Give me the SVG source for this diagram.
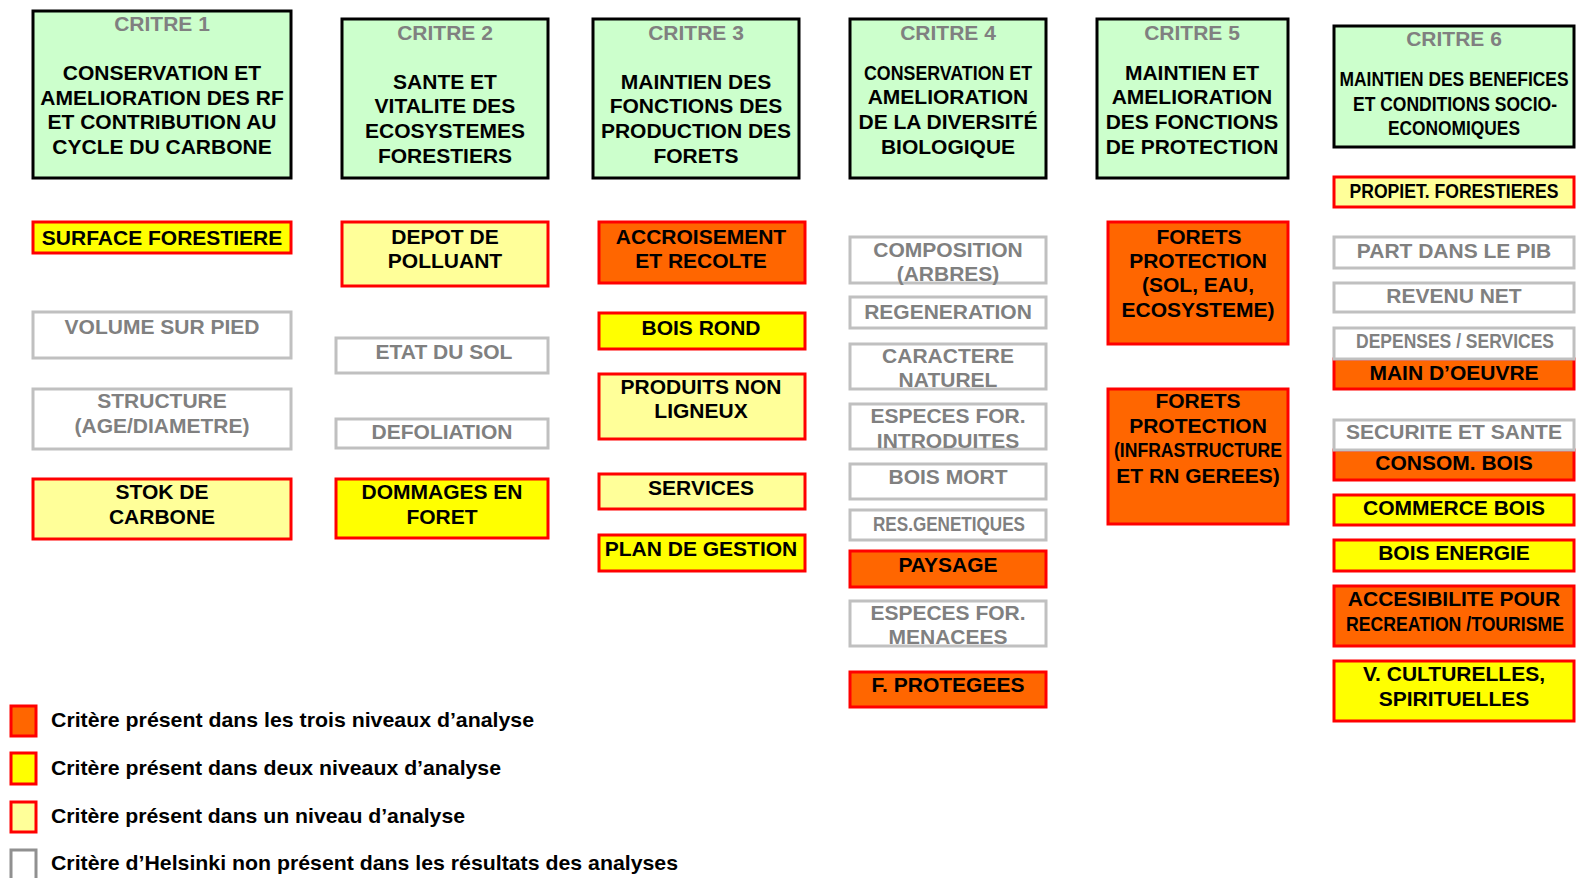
<svg xmlns="http://www.w3.org/2000/svg" width="1576" height="878" viewBox="0 0 1576 878">
<style>
.hdr{fill:#CCFFCC;stroke:#000;stroke-width:3}
.o{fill:#FF6600;stroke:#FF0000;stroke-width:3}
.y{fill:#FFFF00;stroke:#FF0000;stroke-width:3}
.ly{fill:#FFFF99;stroke:#FF0000;stroke-width:3}
.g{fill:#FFFFFF;stroke:#C0C0C0;stroke-width:3}
.lg{fill:#FFFFFF;stroke:#909090;stroke-width:3}
text{font-family:"Liberation Sans",Arial,sans-serif;font-weight:bold;font-size:21px;text-anchor:middle;fill:#000}
text.gt{fill:#808080}
text.leg{text-anchor:start}
</style>
<rect width="1576" height="878" fill="#FFFFFF"/>

<!-- Headers -->
<g id="critre1">
<rect class="hdr" x="33" y="11" width="258" height="167"/>
<text class="gt" x="162" y="31">CRITRE 1</text>
<text x="162" y="80">CONSERVATION ET</text>
<text x="162" y="105">AMELIORATION DES RF</text>
<text x="162" y="129">ET CONTRIBUTION AU</text>
<text x="162" y="154">CYCLE DU CARBONE</text>
</g>
<g id="critre2">
<rect class="hdr" x="342" y="19" width="206" height="159"/>
<text class="gt" x="445" y="40">CRITRE 2</text>
<text x="445" y="89">SANTE ET</text>
<text x="445" y="113">VITALITE DES</text>
<text x="445" y="138">ECOSYSTEMES</text>
<text x="445" y="163">FORESTIERS</text>
</g>
<g id="critre3">
<rect class="hdr" x="593" y="19" width="206" height="159"/>
<text class="gt" x="696" y="40">CRITRE 3</text>
<text x="696" y="89">MAINTIEN DES</text>
<text x="696" y="113">FONCTIONS DES</text>
<text x="696" y="138">PRODUCTION DES</text>
<text x="696" y="163">FORETS</text>
</g>
<g id="critre4">
<rect class="hdr" x="850" y="19" width="196" height="159"/>
<text class="gt" x="948" y="40">CRITRE 4</text>
<text x="948" y="80" textLength="168" lengthAdjust="spacingAndGlyphs">CONSERVATION ET</text>
<text x="948" y="104">AMELIORATION</text>
<text x="948" y="129">DE LA DIVERSITÉ</text>
<text x="948" y="154">BIOLOGIQUE</text>
</g>
<g id="critre5">
<rect class="hdr" x="1097" y="19" width="191" height="159"/>
<text class="gt" x="1192" y="40">CRITRE 5</text>
<text x="1192" y="80">MAINTIEN ET</text>
<text x="1192" y="104">AMELIORATION</text>
<text x="1192" y="129">DES FONCTIONS</text>
<text x="1192" y="154">DE PROTECTION</text>
</g>
<g id="critre6">
<rect class="hdr" x="1334" y="26" width="240" height="121"/>
<text class="gt" x="1454" y="46">CRITRE 6</text>
<text x="1454" y="86" textLength="229" lengthAdjust="spacingAndGlyphs">MAINTIEN DES BENEFICES</text>
<text x="1455" y="111" textLength="204" lengthAdjust="spacingAndGlyphs">ET CONDITIONS SOCIO-</text>
<text x="1454" y="135" textLength="132" lengthAdjust="spacingAndGlyphs">ECONOMIQUES</text>
</g>

<!-- Column 1 -->
<g id="surface-forestiere"><rect class="y" x="33" y="222" width="258" height="31"/><text x="162" y="245">SURFACE FORESTIERE</text></g>
<g id="volume-sur-pied"><rect class="g" x="33" y="312" width="258" height="46"/><text class="gt" x="162" y="334">VOLUME SUR PIED</text></g>
<g id="structure"><rect class="g" x="33" y="389" width="258" height="60"/><text class="gt" x="162" y="408">STRUCTURE</text><text class="gt" x="162" y="433">(AGE/DIAMETRE)</text></g>
<g id="stok-carbone"><rect class="ly" x="33" y="479" width="258" height="60"/><text x="162" y="499">STOK DE</text><text x="162" y="524">CARBONE</text></g>

<!-- Column 2 -->
<g id="depot-polluant"><rect class="ly" x="342" y="222" width="206" height="64"/><text x="445" y="244">DEPOT DE</text><text x="445" y="268">POLLUANT</text></g>
<g id="etat-sol"><rect class="g" x="336" y="338" width="212" height="35"/><text class="gt" x="444" y="359">ETAT DU SOL</text></g>
<g id="defoliation"><rect class="g" x="336" y="419" width="212" height="29"/><text class="gt" x="442" y="439">DEFOLIATION</text></g>
<g id="dommages-foret"><rect class="y" x="336" y="479" width="212" height="59"/><text x="442" y="499">DOMMAGES EN</text><text x="442" y="524">FORET</text></g>

<!-- Column 3 -->
<g id="accroisement"><rect class="o" x="599" y="222" width="206" height="61"/><text x="701" y="244">ACCROISEMENT</text><text x="701" y="268">ET RECOLTE</text></g>
<g id="bois-rond"><rect class="y" x="599" y="313" width="206" height="36"/><text x="701" y="335">BOIS ROND</text></g>
<g id="produits-non-ligneux"><rect class="ly" x="599" y="374" width="206" height="65"/><text x="701" y="394">PRODUITS NON</text><text x="701" y="418">LIGNEUX</text></g>
<g id="services"><rect class="ly" x="599" y="474" width="206" height="35"/><text x="701" y="495">SERVICES</text></g>
<g id="plan-gestion"><rect class="y" x="599" y="535" width="206" height="36"/><text x="701" y="556">PLAN DE GESTION</text></g>

<!-- Column 4 -->
<g id="composition"><rect class="g" x="850" y="237" width="196" height="46"/><text class="gt" x="948" y="257">COMPOSITION</text><text class="gt" x="948" y="281">(ARBRES)</text></g>
<g id="regeneration"><rect class="g" x="850" y="297" width="196" height="31"/><text class="gt" x="948" y="319">REGENERATION</text></g>
<g id="caractere-naturel"><rect class="g" x="850" y="344" width="196" height="45"/><text class="gt" x="948" y="363">CARACTERE</text><text class="gt" x="948" y="387">NATUREL</text></g>
<g id="especes-introduites"><rect class="g" x="850" y="404" width="196" height="45"/><text class="gt" x="948" y="423">ESPECES FOR.</text><text class="gt" x="948" y="448">INTRODUITES</text></g>
<g id="bois-mort"><rect class="g" x="850" y="464" width="196" height="35"/><text class="gt" x="948" y="484">BOIS MORT</text></g>
<g id="res-genetiques"><rect class="g" x="850" y="510" width="196" height="30"/><text class="gt" x="949" y="531" textLength="152" lengthAdjust="spacingAndGlyphs">RES.GENETIQUES</text></g>
<g id="paysage"><rect class="o" x="850" y="551" width="196" height="36"/><text x="948" y="572">PAYSAGE</text></g>
<g id="especes-menacees"><rect class="g" x="850" y="601" width="196" height="45"/><text class="gt" x="948" y="620">ESPECES FOR.</text><text class="gt" x="948" y="644">MENACEES</text></g>
<g id="f-protegees"><rect class="o" x="850" y="672" width="196" height="35"/><text x="948" y="692">F. PROTEGEES</text></g>

<!-- Column 5 -->
<g id="forets-protection-sol"><rect class="o" x="1108" y="222" width="180" height="122"/><text x="1199" y="244">FORETS</text><text x="1198" y="268">PROTECTION</text><text x="1198" y="292">(SOL, EAU,</text><text x="1198" y="317">ECOSYSTEME)</text></g>
<g id="forets-protection-infra"><rect class="o" x="1108" y="389" width="180" height="135"/><text x="1198" y="408">FORETS</text><text x="1198" y="433">PROTECTION</text><text x="1198" y="457" textLength="168" lengthAdjust="spacingAndGlyphs">(INFRASTRUCTURE</text><text x="1198" y="483">ET RN GEREES)</text></g>

<!-- Column 6 -->
<g id="propiet-forestieres"><rect class="ly" x="1334" y="177" width="240" height="30"/><text x="1454" y="198" textLength="209" lengthAdjust="spacingAndGlyphs">PROPIET. FORESTIERES</text></g>
<g id="part-pib"><rect class="g" x="1334" y="237" width="240" height="31"/><text class="gt" x="1454" y="258">PART DANS LE PIB</text></g>
<g id="revenu-net"><rect class="g" x="1334" y="283" width="240" height="29"/><text class="gt" x="1454" y="303">REVENU NET</text></g>
<g id="main-oeuvre"><rect class="o" x="1334" y="359" width="240" height="30"/><text x="1454" y="380">MAIN D’OEUVRE</text></g>
<g id="depenses-services"><rect class="g" x="1334" y="328" width="240" height="31"/><text class="gt" x="1455" y="348" textLength="198" lengthAdjust="spacingAndGlyphs">DEPENSES / SERVICES</text></g>
<g id="consom-bois"><rect class="o" x="1334" y="450" width="240" height="30"/><text x="1454" y="470">CONSOM. BOIS</text></g>
<g id="securite-sante"><rect class="g" x="1334" y="420" width="240" height="30"/><text class="gt" x="1454" y="439">SECURITE ET SANTE</text></g>
<g id="commerce-bois"><rect class="y" x="1334" y="495" width="240" height="30"/><text x="1454" y="515">COMMERCE BOIS</text></g>
<g id="bois-energie"><rect class="y" x="1334" y="540" width="240" height="31"/><text x="1454" y="560">BOIS ENERGIE</text></g>
<g id="accesibilite"><rect class="o" x="1334" y="586" width="240" height="60"/><text x="1454" y="606">ACCESIBILITE POUR</text><text x="1455" y="631" textLength="218" lengthAdjust="spacingAndGlyphs">RECREATION /TOURISME</text></g>
<g id="v-culturelles"><rect class="y" x="1334" y="661" width="240" height="60"/><text x="1454" y="681">V. CULTURELLES,</text><text x="1454" y="706">SPIRITUELLES</text></g>

<g id="connectors"></g>

<!-- Legend -->
<g id="legend">
<rect class="o" x="11" y="706" width="25" height="30"/>
<text class="leg" x="51" y="727" textLength="483" lengthAdjust="spacingAndGlyphs">Critère présent dans les trois niveaux d’analyse</text>
<rect class="y" x="11" y="753" width="25" height="31"/>
<text class="leg" x="51" y="775" textLength="450" lengthAdjust="spacingAndGlyphs">Critère présent dans deux niveaux d’analyse</text>
<rect class="ly" x="11" y="802" width="25" height="30"/>
<text class="leg" x="51" y="823" textLength="414" lengthAdjust="spacingAndGlyphs">Critère présent dans un niveau d’analyse</text>
<rect class="lg" x="11" y="850" width="25" height="32"/>
<text class="leg" x="51" y="870" textLength="627" lengthAdjust="spacingAndGlyphs">Critère d’Helsinki non présent dans les résultats des analyses</text>
</g>
</svg>
